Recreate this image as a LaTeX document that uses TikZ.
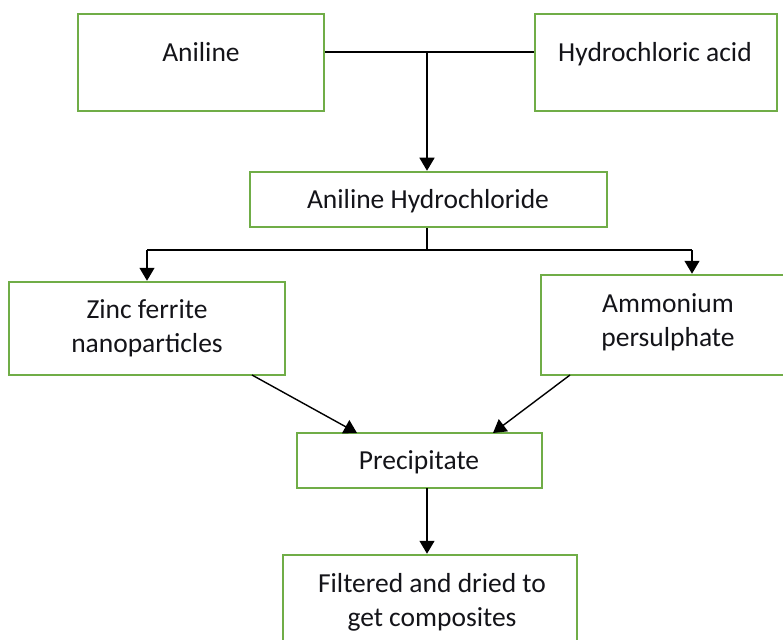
\documentclass[tikz,border=0pt]{standalone}
\usepackage{fontspec}
\setmainfont{Carlito}
\usetikzlibrary{arrows.meta}
\definecolor{boxgreen}{RGB}{112,173,71}
\definecolor{txtcol}{RGB}{20,20,25}
\begin{document}
\begin{tikzpicture}[x=1pt,y=-1pt,
  box/.style={draw=boxgreen,line width=2.5pt,fill=white,rectangle,inner sep=0pt},
  txt/.style={font=\fontsize{27.5}{34}\selectfont,inner sep=0pt,anchor=base,text=txtcol},
  conn/.style={draw=black,line width=1.4pt},
  arr/.style={conn,-{Triangle[width=15pt,length=13pt]}}]
\useasboundingbox (0,0) rectangle (783,639);
\clip (0,0) rectangle (783,639);
% boxes
\node[box,minimum width=246pt,minimum height=97pt] (anil) at (201,62.5) {};
\node[box,minimum width=242pt,minimum height=97pt] (hcl) at (656,62.5) {};
\node[box,minimum width=357pt,minimum height=55pt] (ah) at (428.5,199.5) {};
\node[box,minimum width=276pt,minimum height=93pt] (zinc) at (147,328.5) {};
\node[box,minimum width=256pt,minimum height=100pt] (amm) at (669,325) {};
\node[box,minimum width=245pt,minimum height=55pt] (prec) at (419.5,460.5) {};
\node[box,minimum width=294pt,minimum height=110pt] (filt) at (430,610) {};
% texts
\node[txt] (anilT) at (201,62) {Aniline};
\node[txt] (hclT) at (655,62) {Hydrochloric acid};
\node[txt] (ahT) at (428,208) {Aniline Hydrochloride};
\node[txt] (zincT1) at (147,318) {Zinc ferrite};
\node[txt] (zincT2) at (147,352) {nanoparticles};
\node[txt] (ammT1) at (668,312) {Ammonium};
\node[txt] (ammT2) at (668,346) {persulphate};
\node[txt] (precT) at (419,469) {Precipitate};
\node[txt] (filtT1) at (432,592) {Filtered and dried to};
\node[txt] (filtT2) at (432,626) {get composites};
% connectors
\coordinate (j1) at (427,52);
\draw[conn] (anil.east |- j1) -- (hcl.west |- j1);
\draw[arr] (j1) -- (j1 |- ah.north);
\coordinate (j2) at (427,250);
\coordinate (jl) at (147,250);
\coordinate (jr) at (692,250);
\draw[conn] (ah.south -| j2) -- (j2);
\draw[conn] (jl) -- (jr);
\draw[arr] (jl) -- (jl |- zinc.north);
\draw[arr] (jr) -- (jr |- amm.north);
\coordinate (d1s) at (252,375);
\coordinate (d1e) at (357,433);
\coordinate (d2s) at (570,375);
\coordinate (d2e) at (493,433);
\draw[arr] (d1s) -- (d1e);
\draw[arr] (d2s) -- (d2e);
\coordinate (p1) at (427,488);
\draw[arr] (p1) -- (p1 |- filt.north);
\end{tikzpicture}
\end{document}
